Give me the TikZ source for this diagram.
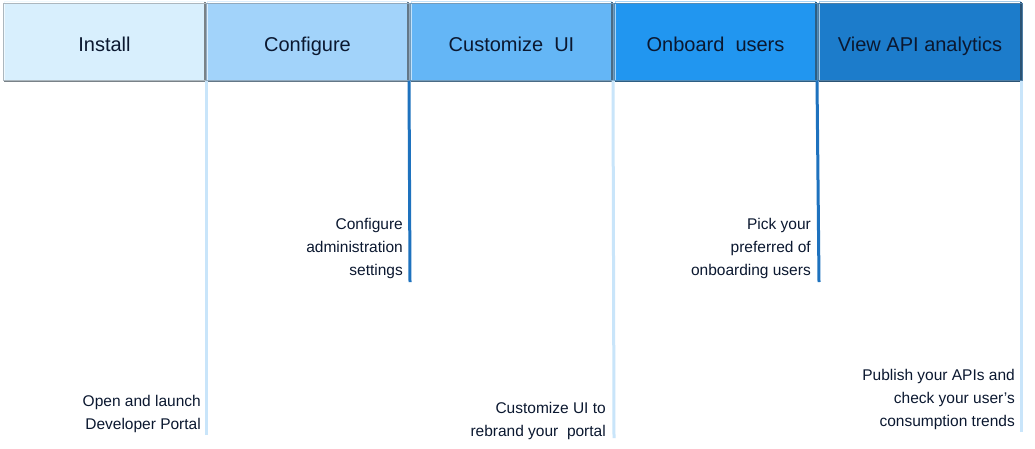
\documentclass[tikz,border=0pt]{standalone}
\usepackage{fontspec}
\setmainfont{Liberation Sans}
\definecolor{c1}{HTML}{D8EFFD}
\definecolor{c2}{HTML}{A2D3FA}
\definecolor{c3}{HTML}{64B6F6}
\definecolor{c4}{HTML}{2196F0}
\definecolor{c5}{HTML}{1C7CCB}
\definecolor{lb}{HTML}{C9E5FA}
\definecolor{db}{HTML}{1E72BE}
\definecolor{txt}{HTML}{0B1830}
\tikzset{
  stage/.style={minimum width=203pt, minimum height=77pt, inner sep=0pt, outer sep=0pt,
    text height=20pt, text depth=1pt,
    font=\fontsize{20}{24}\selectfont, text=txt, anchor=north west},
  desc/.style={font=\fontsize{15.5}{23}\selectfont, align=right, text=txt, anchor=east, inner sep=0pt},
  lightline/.style={draw=lb, line width=3pt},
  darkline/.style={draw=db, line width=3pt},
  bevelhi/.style={line width=1.5pt},
  bevelsh/.style={line width=2.2pt},
}
\newcommand{\bevelbox}[2]{%
  \draw[bevelhi, draw=#2!40!white] ([shift={(1.5pt,-1.5pt)}]#1.south west) -- ([shift={(1.5pt,1.5pt)}]#1.north west) -- ([shift={(-1.5pt,1.5pt)}]#1.north east);
  \draw[bevelsh, draw=#2!55!black!75!gray] ([shift={(1pt,-1.1pt)}]#1.south west) -- ([shift={(-1.1pt,-1.1pt)}]#1.south east) -- ([shift={(-1.1pt,1pt)}]#1.north east);
  \draw[line width=0.6pt, draw=#2!50!gray] (#1.south west) rectangle (#1.north east);
}
\begin{document}
\begin{tikzpicture}[x=1pt,y=-1pt]
\useasboundingbox[fill=white] (0,0) rectangle (1035,448);
% header stages
\node[stage, fill=c1] (s1) at (3,3) {Install};
\node[stage, fill=c2] (s2) at (206,3) {Configure};
\node[stage, fill=c3] (s3) at (410,3) {Customize\ \ UI};
\node[stage, fill=c4] (s4) at (614,3) {Onboard\ \ users};
\node[stage, fill=c5, minimum width=204pt] (s5) at (818,3) {View API analytics};
\bevelbox{s1}{c1}
\bevelbox{s2}{c2}
\bevelbox{s3}{c3}
\bevelbox{s4}{c4}
\bevelbox{s5}{c5}
% timeline lines
\coordinate (e1) at (206,435);
\coordinate (e2) at (410,282);
\coordinate (e3) at (614,438);
\coordinate (e4) at (819,282);
\coordinate (e5) at (1021,432);
\draw[lightline] ([yshift=-0.5pt]s1.south east) -- (e1);
\draw[darkline] ([yshift=-0.5pt]s2.south east) -- (e2);
\draw[lightline] ([yshift=-0.5pt]s3.south east) -- (e3);
\draw[darkline] ([yshift=-0.5pt]s4.south east) -- (e4);
\draw[lightline] ([xshift=-1pt,yshift=-0.5pt]s5.south east) -- (e5);
% descriptions
\node[desc] (d1) at (201,413.5) {Open and launch\\Developer Portal};
\node[desc] (d2) at (403,248.5) {Configure\\administration\\settings};
\node[desc] (d3) at (606,421) {Customize UI to\\rebrand your\ \ portal};
\node[desc] (d4) at (811,248.5) {Pick your\\preferred of\\onboarding users};
\node[desc] (d5) at (1015,399.5) {Publish your APIs and\\check your user’s\\consumption trends};
\end{tikzpicture}
\end{document}
